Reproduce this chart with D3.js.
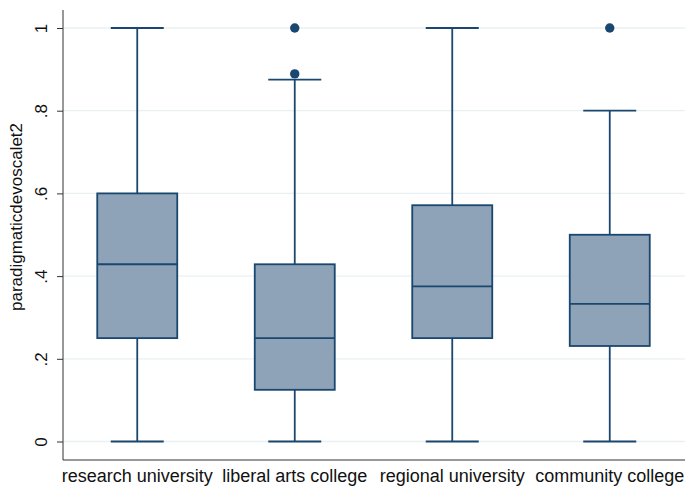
<!DOCTYPE html>
<html lang="en">
<head>
<meta charset="UTF-8">
<title>Box plot</title>
<script src="https://d3js.org/d3.v7.min.js"></script>
<style>
  body { margin: 0; background: #fff; }
  text { font-family: "Liberation Sans", Arial, sans-serif; }
</style>
</head>
<body>
<div id="main"></div>
<script>
// data
var categories = ['research university', 'liberal arts college', 'regional university', 'community college']
var lowerWhisker = [0, 0, 0, 0]
var q1 = [0.25, 0.125, 0.25, 0.231]
var median = [0.4286, 0.25, 0.375, 0.333]
var q3 = [0.6, 0.4286, 0.5714, 0.5]
var upperWhisker = [1, 0.875, 1, 0.8]
var outliers = [[], [0.889, 1], [], [1]]
var yTicks = [0, 0.2, 0.4, 0.6, 0.8, 1]
var yTickLabels = ['0', '.2', '.4', '.6', '.8', '1']

var width = 685
var height = 487
var navy = '#1a476f'

var svg = d3.select('#main').append('svg')
    .attr('width', width)
    .attr('height', height)

var yScale = d3.scaleLinear().domain([0, 1]).range([441.5, 28])
var xScale = d3.scaleBand().domain(categories).range([58.5, 688.5]).padding(0)
var boxW = 80
var capW = 53

var rows = categories.map(function (c, i) {
    return { cat: c, lo: lowerWhisker[i], q1: q1[i], med: median[i], q3: q3[i], hi: upperWhisker[i], out: outliers[i] }
})

// grid lines
svg.append('g').selectAll('line')
    .data(yTicks)
    .enter()
    .append('line')
    .attr('x1', 63).attr('x2', 685)
    .attr('y1', d => yScale(d)).attr('y2', d => yScale(d))
    .attr('stroke', '#eaf0f2')
    .attr('stroke-width', 1.3)

// y axis
var yAxis = svg.append('g')
    .attr('transform', 'translate(63,0)')
    .call(d3.axisLeft(yScale).tickValues(yTicks).tickFormat((d, i) => yTickLabels[i]).tickSize(6).tickPadding(4))
yAxis.select('.domain').attr('d', 'M0,10V460').attr('stroke', '#333')
yAxis.selectAll('.tick line').attr('stroke', '#333')
yAxis.selectAll('.tick text')
    .attr('font-size', 17)
    .attr('fill', '#111')
    .attr('transform', 'rotate(-90)')
    .attr('x', 0)
    .attr('y', -16)
    .attr('dy', 0)
    .attr('text-anchor', 'middle')

// x axis
var xAxis = svg.append('g')
    .attr('transform', 'translate(0,460)')
    .call(d3.axisBottom(xScale).tickSize(0))
xAxis.select('.domain').attr('d', 'M63,0H685').attr('stroke', '#333')
xAxis.selectAll('.tick text')
    .attr('font-size', 18)
    .attr('fill', '#111')
    .attr('y', 22)
    .attr('dy', 0)

// y title
svg.append('text')
    .attr('transform', 'translate(22,217) rotate(-90)')
    .attr('text-anchor', 'middle')
    .attr('font-size', 17)
    .attr('fill', '#111')
    .text('paradigmaticdevoscalet2')

var cx = d => xScale(d.cat) + xScale.bandwidth() / 2

var boxes = svg.append('g').selectAll('g')
    .data(rows)
    .enter()
    .append('g')

// whiskers
boxes.append('line')
    .attr('x1', cx).attr('x2', cx)
    .attr('y1', d => yScale(d.hi)).attr('y2', d => yScale(d.lo))
    .attr('stroke', navy).attr('stroke-width', 1.8)
boxes.append('line')
    .attr('x1', d => cx(d) - capW / 2).attr('x2', d => cx(d) + capW / 2)
    .attr('y1', d => yScale(d.hi)).attr('y2', d => yScale(d.hi))
    .attr('stroke', navy).attr('stroke-width', 1.8)
boxes.append('line')
    .attr('x1', d => cx(d) - capW / 2).attr('x2', d => cx(d) + capW / 2)
    .attr('y1', d => yScale(d.lo)).attr('y2', d => yScale(d.lo))
    .attr('stroke', navy).attr('stroke-width', 1.8)

// box
boxes.append('rect')
    .attr('x', d => cx(d) - boxW / 2)
    .attr('width', boxW)
    .attr('y', d => yScale(d.q3))
    .attr('height', d => yScale(d.q1) - yScale(d.q3))
    .attr('fill', '#8ea3b7')
    .attr('stroke', navy)
    .attr('stroke-width', 1.8)
boxes.append('line')
    .attr('x1', d => cx(d) - boxW / 2).attr('x2', d => cx(d) + boxW / 2)
    .attr('y1', d => yScale(d.med)).attr('y2', d => yScale(d.med))
    .attr('stroke', navy).attr('stroke-width', 1.8)

// outside values
boxes.selectAll('circle')
    .data(d => d.out.map(v => ({ x: cx(d), v: v })))
    .enter()
    .append('circle')
    .attr('cx', d => d.x)
    .attr('cy', d => yScale(d.v))
    .attr('r', 4.7)
    .attr('fill', navy)
</script>
</body>
</html>
